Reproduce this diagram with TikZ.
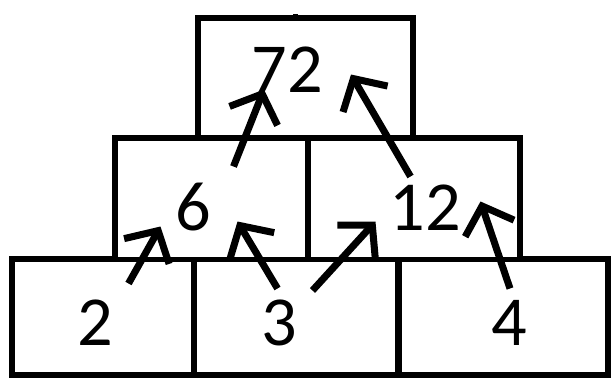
\documentclass[tikz,border=0pt]{standalone}
\usepackage{fontspec}
\setmainfont{Carlito}
\usetikzlibrary{arrows.meta,calc}
\tikzset{
    brick/.style={
        rectangle, draw=black, line width=3.4pt, fill=white,
        inner sep=0pt, outer sep=0pt
    },
    num/.style={
        inner sep=0pt, font=\fontsize{40}{40}\selectfont, text=black
    },
    parr/.style={-{Straight Barb[angle=95:0.7cm]}, line width=4pt, black},
}
\begin{document}
\begin{tikzpicture}[x=0.02cm, y=-0.02cm]
    \useasboundingbox (0,0) rectangle (613,379);

    % bottom row
    \node [brick, minimum width=3.65cm, minimum height=2.31cm] (b1) at (102.75,317) {};
    \node [brick, minimum width=4.09cm, minimum height=2.31cm] (b2) at (296.25,317) {};
    \node [brick, minimum width=4.19cm, minimum height=2.31cm] (b3) at (503.25,317) {};
    % middle row
    \node [brick, minimum width=3.86cm, minimum height=2.43cm] (m1) at (211.5,198.75) {};
    \node [brick, minimum width=4.24cm, minimum height=2.43cm] (m2) at (414,198.75) {};
    % top
    \node [brick, minimum width=4.30cm, minimum height=2.40cm] (top) at (305.5,78) {};
    \draw [line width=3.4pt] ([xshift=-0.2cm]top.north) -- ++(0,-4);

    % numbers
    \node [num] (n2) at (95.5,322.5) {2};
    \node [num] (n3) at (279.5,322.5) {3};
    \node [num] (n4) at (509,322.5) {4};
    \node [num] (n6) at (193.5,207.5) {6};
    \node [num] (n12) at (425.5,207.5) {12};
    \node [num] (n72) at (287,69.5) {72};

    % arrows
    \draw [parr] ($(n2)+(33,-39)$) -- ($(n6)+(-33,19)$);
    \draw [parr] ($(n3)+(-2,-34)$) -- ($(n6)+(44,14)$);
    \draw [parr] ($(n3)+(33,-32)$) -- ($(n12)+(-50,14)$);
    \draw [parr] ($(n4)+(1,-34)$) -- ($(n12)+(55,-6)$);
    \draw [parr] ($(n6)+(40,-41)$) -- ($(n72)+(-23,20)$);
    \draw [parr] ($(n12)+(-15,-31)$) -- ($(n72)+(64,5)$);

\end{tikzpicture}
\end{document}
